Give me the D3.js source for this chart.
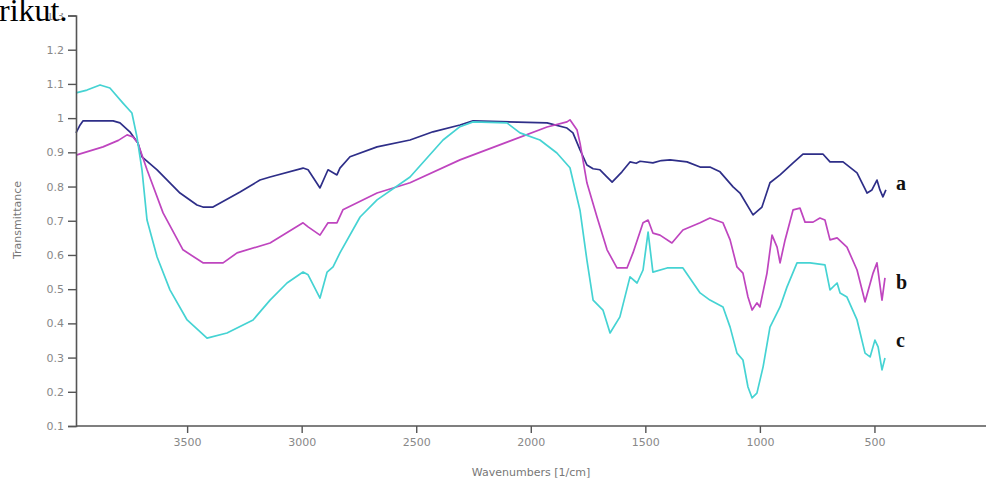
<!DOCTYPE html>
<html>
<head>
<meta charset="utf-8">
<script src="https://cdn.jsdelivr.net/npm/d3@7"></script>
<style>
  html, body { margin: 0; padding: 0; background: #fff; }
  svg { display: block; }
</style>
</head>
<body>
<svg id="chart" width="986" height="481"></svg>
<script>
// ---- Data (wavenumber [1/cm], transmittance) ----
const yTicks = [0.1, 0.2, 0.3, 0.4, 0.5, 0.6, 0.7, 0.8, 0.9, 1.0, 1.1, 1.2, 1.3];
const xTicks = [3500, 3000, 2500, 2000, 1500, 1000, 500, 0];
const seriesLabels = ["a", "b", "c"];

const seriesA = [
  [3985,0.957],[3967,0.980],[3954,0.992],[3823,0.992],[3793,0.986],[3750,0.960],[3715,0.927],
  [3697,0.887],[3631,0.849],[3531,0.781],[3457,0.746],[3431,0.740],[3387,0.740],[3269,0.784],
  [3182,0.819],[3138,0.828],[2994,0.854],[2972,0.849],[2920,0.796],[2885,0.849],[2846,0.834],
  [2833,0.854],[2789,0.887],[2671,0.916],[2527,0.936],[2427,0.960],[2309,0.980],[2252,0.992],
  [1929,0.986],[1842,0.971],[1816,0.957],[1785,0.907],[1755,0.863],[1728,0.852],[1698,0.849],
  [1670,0.830],[1645,0.813],[1602,0.843],[1567,0.872],[1540,0.868],[1523,0.874],[1467,0.869],
  [1430,0.876],[1392,0.878],[1318,0.872],[1261,0.857],[1218,0.857],[1174,0.843],[1117,0.799],
  [1087,0.781],[1030,0.717],[991,0.740],[956,0.811],[912,0.834],[855,0.869],[812,0.895],
  [725,0.895],[694,0.872],[637,0.872],[576,0.840],[532,0.781],[511,0.790],[489,0.819],
  [476,0.790],[463,0.770],[450,0.790]
];

const seriesB = [
  [3985,0.892],[3867,0.916],[3800,0.935],[3762,0.951],[3736,0.945],[3715,0.927],[3675,0.849],
  [3605,0.723],[3518,0.615],[3431,0.577],[3343,0.577],[3282,0.606],[3138,0.635],[2994,0.694],
  [2972,0.682],[2920,0.658],[2885,0.694],[2846,0.694],[2820,0.732],[2671,0.781],[2527,0.811],
  [2309,0.878],[1929,0.974],[1842,0.989],[1829,0.995],[1798,0.965],[1785,0.927],[1755,0.811],
  [1711,0.711],[1667,0.615],[1624,0.562],[1580,0.562],[1554,0.606],[1510,0.694],[1488,0.702],
  [1467,0.664],[1436,0.658],[1384,0.635],[1336,0.673],[1261,0.694],[1218,0.708],[1161,0.694],
  [1130,0.644],[1100,0.565],[1074,0.547],[1052,0.477],[1034,0.439],[1013,0.460],[1000,0.448],
  [969,0.547],[947,0.658],[925,0.623],[912,0.577],[890,0.644],[855,0.732],[825,0.737],
  [803,0.696],[768,0.696],[738,0.708],[716,0.702],[694,0.644],[663,0.650],[620,0.623],
  [576,0.556],[541,0.463],[506,0.547],[489,0.577],[467,0.468],[454,0.533]
];

const seriesC = [
  [3985,1.074],[3937,1.082],[3880,1.097],[3837,1.088],[3780,1.044],[3741,1.015],[3719,0.945],
  [3697,0.849],[3675,0.702],[3631,0.594],[3575,0.498],[3500,0.410],[3413,0.357],[3326,0.372],
  [3212,0.410],[3138,0.468],[3064,0.518],[2994,0.550],[2972,0.542],[2920,0.474],[2889,0.550],
  [2863,0.565],[2833,0.606],[2745,0.711],[2671,0.761],[2527,0.828],[2383,0.936],[2309,0.975],
  [2252,0.989],[2104,0.986],[2047,0.957],[1960,0.936],[1886,0.898],[1829,0.855],[1785,0.730],
  [1755,0.585],[1728,0.468],[1685,0.439],[1654,0.372],[1611,0.419],[1567,0.536],[1536,0.518],
  [1510,0.556],[1488,0.667],[1467,0.550],[1405,0.562],[1336,0.562],[1261,0.489],[1218,0.468],
  [1161,0.448],[1130,0.389],[1100,0.313],[1074,0.293],[1052,0.214],[1034,0.182],[1013,0.196],
  [986,0.273],[956,0.389],[912,0.448],[882,0.506],[838,0.577],[781,0.577],[716,0.571],
  [694,0.498],[663,0.518],[650,0.489],[620,0.477],[576,0.410],[541,0.313],[519,0.302],
  [498,0.351],[484,0.331],[467,0.264],[454,0.299]
];

const seriesColors = ["#2e2e88", "#bf45bf", "#45d3d3"];

// ---- Drawing ----
const svg = d3.select("#chart");

svg.append("defs").append("clipPath").attr("id", "crop")
  .append("rect").attr("x", 0).attr("y", 13).attr("width", 986).attr("height", 470);

const g = svg.append("g").attr("clip-path", "url(#crop)");

const x = d3.scaleLinear().domain([3985, 0]).range([76, 989]);
const y = d3.scaleLinear().domain([0.1, 1.3]).range([426, 15.5]);

// lines
const line = d3.line().x(d => x(d[0])).y(d => y(d[1]));
[seriesA, seriesB, seriesC].forEach((s, i) => {
  g.append("path")
    .datum(s)
    .attr("fill", "none")
    .attr("stroke", seriesColors[i])
    .attr("stroke-width", 1.7)
    .attr("stroke-linejoin", "round")
    .attr("d", line);
});

// y axis
const yAxis = d3.axisLeft(y).tickValues(yTicks).tickSize(8).tickPadding(4)
  .tickFormat(d => d3.format("~g")(+d.toFixed(1)));
const ya = g.append("g").attr("transform", "translate(76,0)").call(yAxis);
ya.select(".domain").attr("stroke", "#555").attr("stroke-width", 1.6);
ya.selectAll(".tick line").attr("stroke", "#555").attr("stroke-width", 1.4);
ya.selectAll(".tick text").attr("fill", "#888").style("font-family", "DejaVu Sans, sans-serif").style("font-size", "11px");

// x axis
const xAxis = d3.axisBottom(x).tickValues(xTicks).tickSize(7).tickPadding(5)
  .tickFormat(d3.format("d"));
const xa = g.append("g").attr("transform", "translate(0,426)").call(xAxis);
xa.select(".domain").attr("stroke", "#555").attr("stroke-width", 1.6).attr("d", "M76,0H986");
xa.selectAll(".tick line").attr("stroke", "#555").attr("stroke-width", 1.4);
xa.selectAll(".tick text").attr("fill", "#888").style("font-family", "DejaVu Sans, sans-serif").style("font-size", "11px");

// axis titles
g.append("text")
  .attr("transform", "translate(21,220) rotate(-90)")
  .attr("text-anchor", "middle")
  .attr("fill", "#777")
  .style("font-family", "DejaVu Sans, sans-serif")
  .style("font-size", "11px")
  .text("Transmittance");

g.append("text")
  .attr("x", 531).attr("y", 476)
  .attr("text-anchor", "middle")
  .attr("fill", "#777")
  .style("font-family", "DejaVu Sans, sans-serif")
  .style("font-size", "11px")
  .text("Wavenumbers [1/cm]");

// series labels
const labelY = [0.81, 0.52, 0.35];
seriesLabels.forEach((t, i) => {
  g.append("text")
    .attr("x", 896)
    .attr("y", y(labelY[i]) + 7)
    .attr("fill", "#111")
    .style("font-family", "Liberation Serif, serif")
    .style("font-weight", "bold")
    .style("font-size", "20px")
    .text(t);
});

// preceding document text (cropped)
svg.append("text")
  .attr("x", -1).attr("y", 21)
  .attr("fill", "#000")
  .style("font-family", "Liberation Serif, serif")
  .style("font-size", "32px")
  .text("rikut.");
</script>
</body>
</html>
